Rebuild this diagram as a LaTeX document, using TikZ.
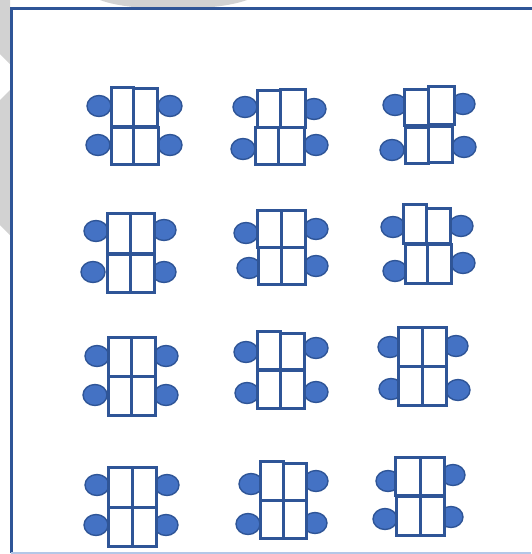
\documentclass[tikz,border=0pt]{standalone}
\usepackage{tikz}
\definecolor{deskblue}{RGB}{47,85,151}
\definecolor{chairfill}{RGB}{68,114,196}
\definecolor{bggray}{RGB}{210,210,210}
\definecolor{lightframe}{RGB}{180,199,231}
\tikzset{
  desk/.style={draw=deskblue, line width=3pt, fill=white},
  chair/.style={draw=deskblue, line width=1.4pt, fill=chairfill},
  frameline/.style={draw=deskblue, line width=3pt},
  bgshape/.style={fill=bggray, draw=none}
}
\newcommand{\seat}[2]{\draw[chair] (#1,#2) ellipse (12 and 10.5);}
\newcommand{\deskbox}[4]{\draw[desk] (#1,#2) rectangle (#3,#4);}
\begin{document}
\begin{tikzpicture}[x=1pt,y=-1pt]
\useasboundingbox (0,0) rectangle (531,554);
\fill[white] (0,0) rectangle (531,554);
% background gray shapes
\fill[bgshape] (100,0) .. controls (130,12) and (215,12) .. (247,0) -- cycle;
\fill[bgshape] (0,0) -- (10,0) -- (10,64) -- (0,54) -- cycle;
\fill[bgshape] (0,100) -- (10,90) -- (10,235) -- (0,225) -- cycle;
% frame
\draw[frameline] (540,8.7) -- (11,8.7) -- (11,552.5);
\draw[lightframe, line width=1.5pt] (11,552.8) -- (531,552.8);
% Group 1
\seat{99}{106}\seat{98}{145}\seat{170}{106}\seat{170}{145}
\deskbox{111}{87}{133}{126}\deskbox{133}{88}{157}{126}
\deskbox{111}{127}{133}{164}\deskbox{133}{127}{158}{164}
% Group 2
\seat{245}{107}\seat{243}{149}\seat{314}{109}\seat{316}{145}
\deskbox{257}{90}{280}{127}\deskbox{280}{89}{305}{127}
\deskbox{255}{127}{278}{164}\deskbox{278}{127}{304}{164}
% Group 3
\seat{395}{105}\seat{392}{150}\seat{463}{104}\seat{464}{147}
\deskbox{404}{89}{428}{125}\deskbox{428}{86}{454}{124}
\deskbox{405}{127}{428}{163}\deskbox{428}{126}{452}{162}
% Group 4
\seat{96}{231}\seat{93}{272}\seat{164}{230}\seat{164}{272}
\deskbox{107}{213}{130}{253}\deskbox{130}{213}{154}{253}
\deskbox{107}{254}{130}{292}\deskbox{130}{254}{154}{292}
% Group 5
\seat{246}{233}\seat{249}{268}\seat{316}{229}\seat{316}{266}
\deskbox{257}{210}{281}{247}\deskbox{281}{210}{305}{247}
\deskbox{258}{247}{281}{284}\deskbox{281}{247}{305}{284}
% Group 6
\seat{393}{227}\seat{395}{271}\seat{461}{226}\seat{463}{263}
\deskbox{403}{204}{426}{243}\deskbox{426}{208}{450}{243}
\deskbox{405}{244}{427}{283}\deskbox{427}{244}{451}{283}
% Group 7
\seat{97}{356}\seat{95}{395}\seat{166}{356}\seat{166}{395}
\deskbox{108}{337}{131}{376}\deskbox{131}{337}{155}{376}
\deskbox{108}{376}{131}{415}\deskbox{131}{376}{155}{415}
% Group 8
\seat{246}{352}\seat{247}{393}\seat{316}{348}\seat{316}{392}
\deskbox{257}{331}{280}{369}\deskbox{280}{333}{304}{369}
\deskbox{257}{370}{280}{408}\deskbox{280}{370}{304}{408}
% Group 9
\seat{390}{347}\seat{391}{389}\seat{456}{346}\seat{458}{390}
\deskbox{398}{327}{422}{366}\deskbox{422}{327}{446}{366}
\deskbox{398}{366}{422}{405}\deskbox{422}{366}{446}{405}
% Group 10
\seat{97}{485}\seat{96}{525}\seat{167}{485}\seat{166}{525}
\deskbox{108}{467}{132}{507}\deskbox{132}{467}{156}{507}
\deskbox{108}{507}{132}{546}\deskbox{132}{507}{156}{546}
% Group 11
\seat{251}{484}\seat{248}{524}\seat{316}{481}\seat{315}{523}
\deskbox{260}{461}{283}{500}\deskbox{283}{463}{306}{500}
\deskbox{260}{500}{283}{538}\deskbox{283}{500}{306}{538}
% Group 12
\seat{388}{481}\seat{385}{519}\seat{453}{475}\seat{451}{517}
\deskbox{395}{457}{420}{495}\deskbox{420}{457}{444}{495}
\deskbox{396}{496}{420}{535}\deskbox{420}{496}{444}{535}
\end{tikzpicture}
\end{document}
